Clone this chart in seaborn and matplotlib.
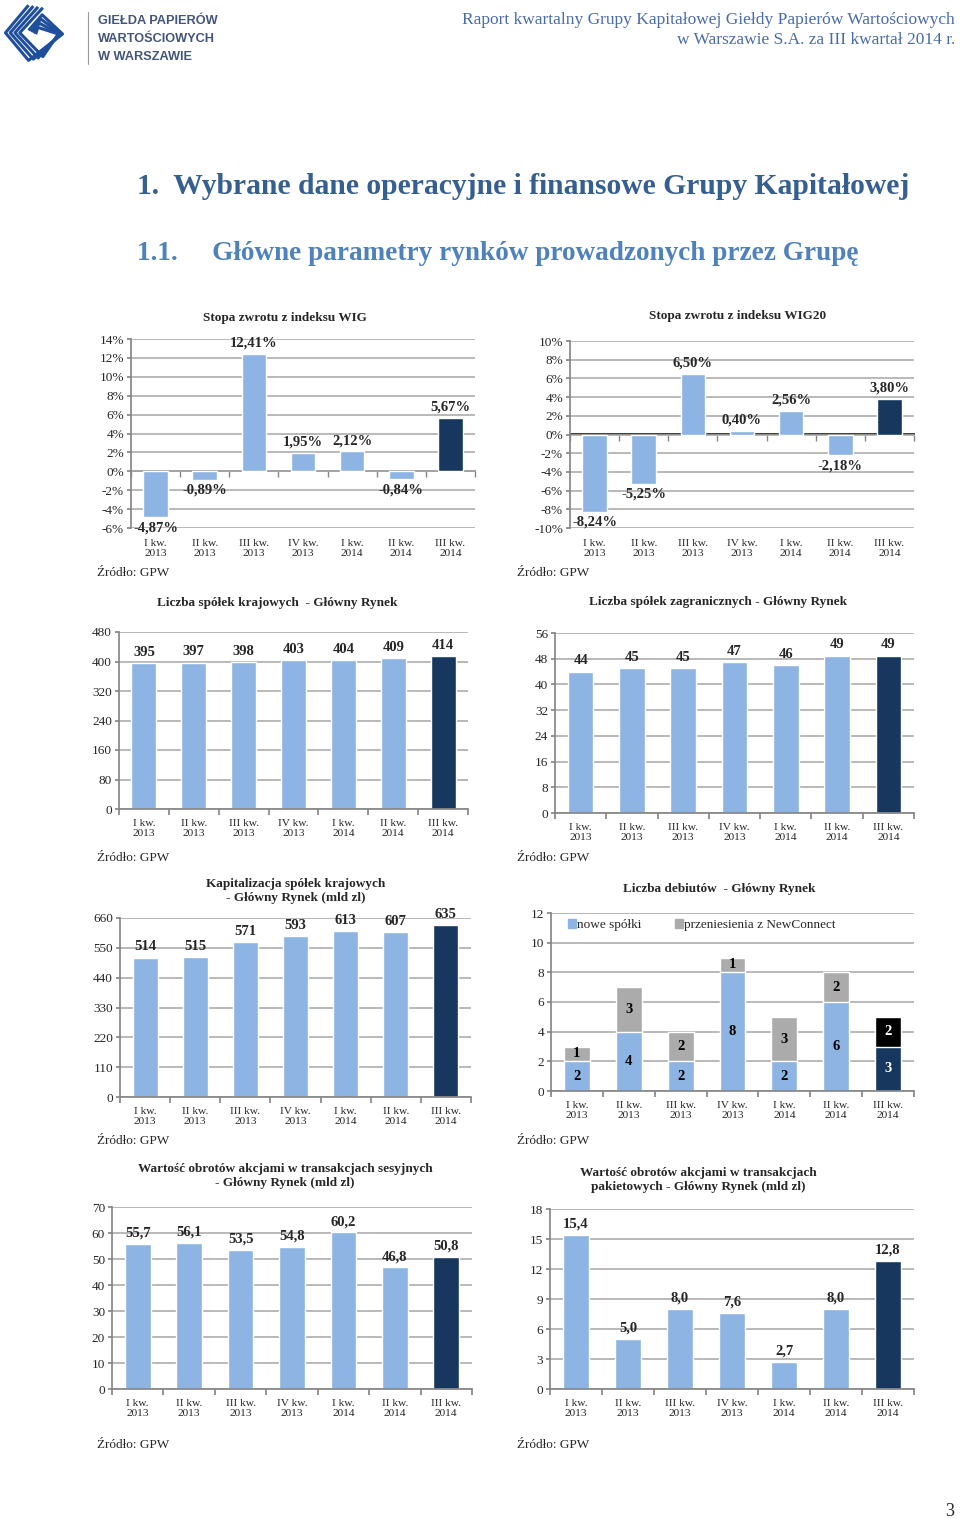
import matplotlib
matplotlib.use('Agg')
import matplotlib.pyplot as plt
from matplotlib.patches import Patch
import seaborn as sns

# dane do wykresów (III kw. 2014)
quarters = ['I kw.\n2013', 'II kw.\n2013', 'III kw.\n2013', 'IV kw.\n2013',
            'I kw.\n2014', 'II kw.\n2014', 'III kw.\n2014']
wig = [-4.87, -0.89, 12.41, 1.95, 2.12, -0.84, 5.67]
wig20 = [-8.24, -5.25, 6.50, 0.40, 2.56, -2.18, 3.80]
krajowe = [395, 397, 398, 403, 404, 409, 414]
zagraniczne = [44, 45, 45, 47, 46, 49, 49]
kapitalizacja = [514, 515, 571, 593, 613, 607, 635]
nowe = [2, 4, 2, 8, 2, 6, 3]
przeniesienia = [1, 3, 2, 1, 3, 2, 2]
sesyjne = [55.7, 56.1, 53.5, 54.8, 60.2, 46.8, 50.8]
pakietowe = [15.4, 5.0, 8.0, 7.6, 2.7, 8.0, 12.8]

light = '#8DB4E2'
dark = '#17375E'
grey = '#ABABAB'
grid_c = '#A6A6A6'
axis_c = '#868686'

W, H = 960, 1519

sns.set_theme(style='white')
plt.rcParams['font.family'] = ['Liberation Serif', 'DejaVu Serif']

fig = plt.figure(figsize=(W / 100, H / 100), dpi=100)


def box(l, t, r, b):
    return [l / W, 1 - b / H, (r - l) / W, (b - t) / H]


def ftext(x, y, s, **kw):
    fig.text(x / W, 1 - y / H, s, **kw)


def bar_colors(n, base=light, last=dark):
    return [base] * (n - 1) + [last]


def pct(v):
    return f'{v:.2f}%'.replace('.', ',')


def one_dec(v):
    return f'{v:.1f}'.replace('.', ',')


def whole(v):
    return f'{v:d}'


def style_axes(ax, ymin, ymax, step, suffix=''):
    ticks = list(range(ymin, ymax + 1, step))
    ax.set_ylim(ymin, ymax)
    ax.set_yticks(ticks)
    ax.set_yticklabels([f'{t}{suffix}' for t in ticks], fontsize=9.5)
    ax.set_xlim(-0.5, len(quarters) - 0.5)
    ax.set_axisbelow(True)
    ax.yaxis.grid(True, color=grid_c, lw=1.1)
    ax.xaxis.grid(False)
    for s in ['top', 'right']:
        ax.spines[s].set_visible(False)
    ax.spines['left'].set_color(axis_c)
    ax.spines['bottom'].set_color(axis_c)
    ax.tick_params(axis='y', left=True, length=3, color=axis_c, pad=2)
    ax.set_xlabel('')
    ax.set_ylabel('')


def cat_axis(ax):
    n = len(quarters)
    ax.set_xticks([i - 0.5 for i in range(n + 1)])
    ax.set_xticklabels([])
    ax.set_xticks(range(n), minor=True)
    ax.set_xticklabels(quarters, minor=True, fontsize=8.2, linespacing=1.15)
    ax.tick_params(axis='x', which='major', bottom=True, length=4, color=axis_c,
                   direction='out')
    ax.tick_params(axis='x', which='minor', bottom=True, length=0, pad=7)


def zero_axis(ax, ymin, ymax):
    # oś kategorii na poziomie 0, podpisy na dole wykresu
    n = len(quarters)
    ax.spines['bottom'].set_visible(False)
    ax.set_xticks(range(n))
    ax.set_xticklabels(quarters, fontsize=8.2, linespacing=1.15)
    ax.tick_params(axis='x', bottom=False, length=0, pad=8)
    sec = ax.secondary_xaxis((0 - ymin) / (ymax - ymin))
    sec.set_xticks([i - 0.5 for i in range(n + 1)])
    sec.set_xticklabels([])
    sec.tick_params(axis='x', which='both', bottom=True, top=False, length=4,
                    color=axis_c, width=1, direction='out')
    sec.spines['bottom'].set_color(axis_c)
    sec.spines['bottom'].set_linewidth(1.2)


def label_bars(ax, values, fmt, neg_below=False):
    for i, v in enumerate(values):
        if v < 0 and neg_below:
            ax.annotate(fmt(v), (i, v), xytext=(0, -3), textcoords='offset points',
                        ha='center', va='top', fontsize=10.5, fontweight='bold')
        else:
            ax.annotate(fmt(v), (i, v), xytext=(0, 3), textcoords='offset points',
                        ha='center', va='bottom', fontsize=10.5, fontweight='bold')


def bar_chart(rect, values, ymin, ymax, step, fmt, title, title_xy, source_xy,
              suffix='', zero=False):
    ax = fig.add_axes(box(*rect))
    sns.barplot(x=quarters, y=values, hue=quarters, palette=bar_colors(len(values)),
                legend=False, width=0.5, saturation=1, ax=ax)
    style_axes(ax, ymin, ymax, step, suffix)
    if zero:
        zero_axis(ax, ymin, ymax)
    else:
        cat_axis(ax)
    label_bars(ax, values, fmt, neg_below=zero)
    ftext(*title_xy, title, ha='center', va='center', fontsize=9.5,
          fontweight='bold', linespacing=1.3)
    ftext(*source_xy, 'Źródło: GPW', ha='left', va='center', fontsize=9.5)
    return ax


# nagłówek strony
logo = fig.add_axes(box(0, 4, 68, 64))
logo.set_xlim(0, 1)
logo.set_ylim(0, 1)
logo.axis('off')
for k in range(4):
    d = k * 0.07
    logo.plot([0.42 + d, 0.08 + d, 0.42 + d, 0.92 - d * 0.3, 0.62 - d * 0.3, 0.42 + d * 0.5],
              [0.98 - d * 0.2, 0.52, 0.06 + d * 0.3, 0.5, 0.82 - d, 0.56 - d * 0.3],
              color='#1F4F9C', lw=2.2, solid_capstyle='butt')
fig.add_artist(plt.Line2D([88 / W, 88 / W], [1 - 12 / H, 1 - 64 / H], color='#9A9A9A', lw=0.8))
for yy, s in zip([21, 39, 57], ['GIEŁDA PAPIERÓW', 'WARTOŚCIOWYCH', 'W WARSZAWIE']):
    ftext(98, yy, s, ha='left', va='center', fontsize=9.2, fontweight='bold',
          color='#44557A', family=['Liberation Sans', 'DejaVu Sans'])
ftext(955, 20, 'Raport kwartalny Grupy Kapitałowej Giełdy Papierów Wartościowych',
      ha='right', va='center', fontsize=12.5, color='#4A6BAA')
ftext(955, 40, 'w Warszawie S.A. za III kwartał 2014 r.',
      ha='right', va='center', fontsize=12.5, color='#4A6BAA')

ftext(137, 187, '1.  Wybrane dane operacyjne i finansowe Grupy Kapitałowej',
      ha='left', va='center', fontsize=21.3, fontweight='bold', color='#365F91')
ftext(137, 254, '1.1.     Główne parametry rynków prowadzonych przez Grupę',
      ha='left', va='center', fontsize=19.6, fontweight='bold', color='#4F81BD')

# wykresy
bar_chart((131, 339, 475, 528), wig, -6, 14, 2, pct, 'Stopa zwrotu z indeksu WIG',
          (285, 318), (97, 573), suffix='%', zero=True)
bar_chart((570, 341, 914, 528), wig20, -10, 10, 2, pct, 'Stopa zwrotu z indeksu WIG20',
          (738, 316), (517, 573), suffix='%', zero=True)
bar_chart((119, 632, 468, 809), krajowe, 0, 480, 80, whole,
          'Liczba spółek krajowych  - Główny Rynek', (277, 603), (97, 858))
bar_chart((555, 633, 914, 813), zagraniczne, 0, 56, 8, whole,
          'Liczba spółek zagranicznych - Główny Rynek', (718, 602), (517, 858))
bar_chart((120, 918, 471, 1097), kapitalizacja, 0, 660, 110, whole,
          'Kapitalizacja spółek krajowych\n- Główny Rynek (mld zl)', (296, 891), (97, 1141))
bar_chart((112, 1207, 472, 1389), sesyjne, 0, 70, 10, one_dec,
          'Wartość obrotów akcjami w transakcjach sesyjnych\n- Główny Rynek (mld zl)',
          (285, 1176), (97, 1445))
bar_chart((550, 1209, 914, 1389), pakietowe, 0, 18, 3, one_dec,
          'Wartość obrotów akcjami w transakcjach\npakietowych - Główny Rynek (mld zl)',
          (698, 1180), (517, 1445))

# debiuty - słupki skumulowane
ax = fig.add_axes(box(551, 913, 914, 1091))
totals = [a + b for a, b in zip(nowe, przeniesienia)]
sns.barplot(x=quarters, y=totals, hue=quarters, palette=bar_colors(7, grey, 'black'),
            legend=False, width=0.5, saturation=1, ax=ax)
sns.barplot(x=quarters, y=nowe, hue=quarters, palette=bar_colors(7),
            legend=False, width=0.5, saturation=1, ax=ax)
style_axes(ax, 0, 12, 2)
cat_axis(ax)
for i, (a, b) in enumerate(zip(nowe, przeniesienia)):
    c = 'white' if i == len(nowe) - 1 else 'black'
    ax.text(i, a / 2, str(a), ha='center', va='center', fontsize=10.5, fontweight='bold', color=c)
    ax.text(i, a + b / 2, str(b), ha='center', va='center', fontsize=10.5, fontweight='bold', color=c)
ax.legend(handles=[Patch(color=light, label='nowe spółki'),
                   Patch(color=grey, label='przeniesienia z NewConnect')],
          loc='upper left', bbox_to_anchor=(0.025, 1.01), ncol=2, frameon=False,
          fontsize=9.5, handlelength=0.6, handleheight=0.6, handletextpad=0.1,
          columnspacing=2.5, borderaxespad=0.2)
ftext(719, 889, 'Liczba debiutów  - Główny Rynek', ha='center', va='center',
      fontsize=9.5, fontweight='bold')
ftext(517, 1141, 'Źródło: GPW', ha='left', va='center', fontsize=9.5)

ftext(950, 1512, '3', ha='center', va='center', fontsize=13)

fig.savefig('out.png', dpi=100)
